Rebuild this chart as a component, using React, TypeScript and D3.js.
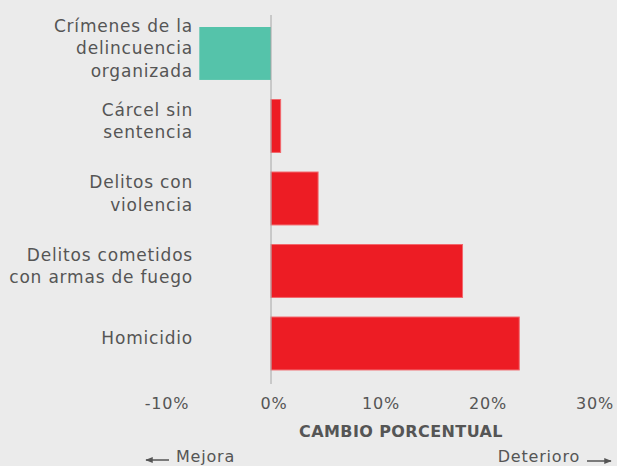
import React from 'react';
import * as d3 from 'd3';

// categories (top to bottom), label lines and percentage change
const categories = [
  'Crímenes de la delincuencia organizada',
  'Cárcel sin sentencia',
  'Delitos con violencia',
  'Delitos cometidos con armas de fuego',
  'Homicidio',
];
const labelLines = [
  ['Crímenes de la', 'delincuencia', 'organizada'],
  ['Cárcel sin', 'sentencia'],
  ['Delitos con', 'violencia'],
  ['Delitos cometidos', 'con armas de fuego'],
  ['Homicidio'],
];
const changes = [-6.7, 0.9, 4.4, 17.9, 23.2];
const ticks = [-10, 0, 10, 20, 30];

const W = 617;
const H = 466;
const FONT = '"DejaVu Sans", Verdana, sans-serif';
const TXT = '#555555';

export default function App() {
  const x = d3.scaleLinear().domain([-10, 30]).range([164, 592]);
  const y = d3.scaleBand().domain(categories).range([19.75, 377.2]).paddingInner(0.27).paddingOuter(0.1);
  const y0 = 15;
  const y1 = 384;

  return (
    <svg width={W} height={H} style={{ position: 'absolute', left: 0, top: 0, display: 'block' }}>
      <defs>
        <marker id="arr" viewBox="0 0 10 10" refX="9" refY="5" markerWidth="5" markerHeight="5" orient="auto-start-reverse">
          <path d="M0,1 L10,5 L0,9 Z" fill="#555" />
        </marker>
      </defs>
      <rect width={W} height={H} fill="#ebebeb" />

      {categories.map((c, i) => {
        const v = changes[i];
        const bx = x(Math.min(0, v));
        const bw = Math.abs(x(v) - x(0));
        return (
          <rect key={c} x={bx} y={y(c)} width={bw} height={y.bandwidth()}
            fill={v < 0 ? '#55c3aa' : '#ed1c24'} stroke={v < 0 ? 'none' : '#f2676c'} strokeWidth={1} />
        );
      })}

      <line x1={x(0)} x2={x(0)} y1={y0} y2={y1} stroke="#a6a6a6" strokeWidth={1} />

      {categories.map((c, i) => {
        const lines = labelLines[i];
        const cy = (y(c) as number) + y.bandwidth() / 2 - 5;
        const lh = 22.5;
        const start = cy - ((lines.length - 1) * lh) / 2;
        return (
          <text key={c} x={193} textAnchor="end" fontFamily={FONT} fontSize={17} letterSpacing={0.8} fill={TXT}>
            {lines.map((l, j) => (
              <tspan key={j} x={193} y={start + j * lh} dy="0.35em">{l}</tspan>
            ))}
          </text>
        );
      })}

      {ticks.map(t => (
        <text key={t} x={x(t) + 3} y={403} dy="0.35em" textAnchor="middle" fontFamily={FONT} fontSize={16} letterSpacing={0.8} fill={TXT}>
          {t + '%'}
        </text>
      ))}

      <text x={401} y={431} dy="0.35em" textAnchor="middle" fontFamily={FONT} fontSize={16} fontWeight="bold" letterSpacing={0.4} fill={TXT}>
        CAMBIO PORCENTUAL
      </text>

      <line x1={169} x2={146} y1={460} y2={460} stroke="#555" strokeWidth={1.5} markerEnd="url(#arr)" />
      <text x={176} y={456} dy="0.35em" fontFamily={FONT} fontSize={16} letterSpacing={0.8} fill={TXT}>Mejora</text>
      <text x={580} y={456} dy="0.35em" textAnchor="end" fontFamily={FONT} fontSize={16} letterSpacing={0.8} fill={TXT}>Deterioro</text>
      <line x1={587} x2={611} y1={461} y2={461} stroke="#555" strokeWidth={1.5} markerEnd="url(#arr)" />
    </svg>
  );
}
